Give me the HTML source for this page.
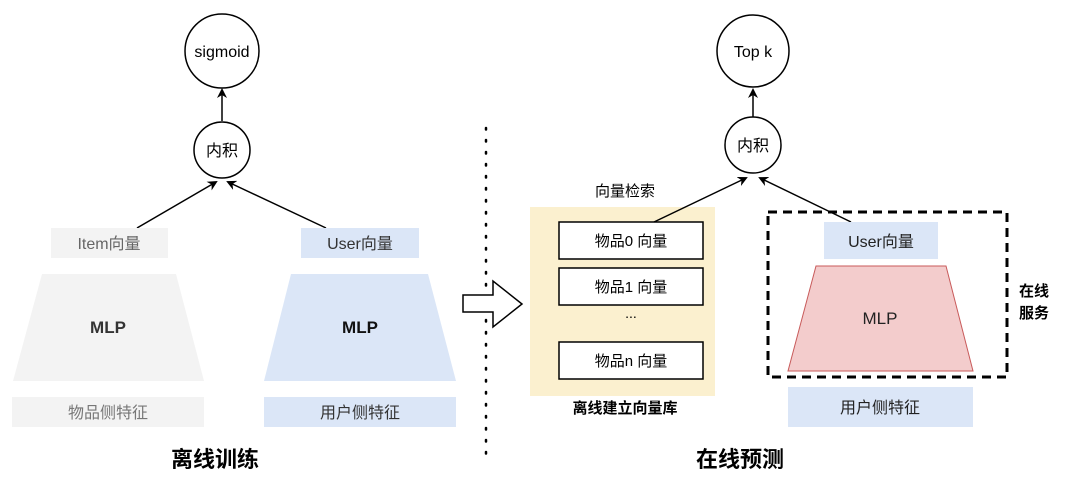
<!DOCTYPE html>
<html><head><meta charset="utf-8"><style>
body{margin:0;width:1080px;height:494px;background:#fff;overflow:hidden}
svg text{font-family:"Liberation Sans","Noto Sans CJK SC",sans-serif}
</style></head><body>
<svg width="1080" height="494" viewBox="0 0 1080 494" xmlns="http://www.w3.org/2000/svg">
<defs><marker id="a" markerWidth="10" markerHeight="10" refX="8" refY="5" orient="auto" markerUnits="userSpaceOnUse"><path d="M0,0 L10,5 L0,10 L3,5 Z" fill="#000"/></marker></defs>
<!-- left -->
<circle cx="222" cy="51" r="37" fill="#fff" stroke="#000" stroke-width="1.5"/>
<text x="222" y="57" font-size="16" text-anchor="middle">sigmoid</text>
<line x1="222" y1="121" x2="222" y2="90" stroke="#000" stroke-width="1.5" marker-end="url(#a)"/>
<circle cx="222" cy="150" r="28" fill="#fff" stroke="#000" stroke-width="1.5"/>
<text x="222" y="156" font-size="16" text-anchor="middle">内积</text>
<line x1="137" y1="228" x2="216" y2="182" stroke="#000" stroke-width="1.5" marker-end="url(#a)"/>
<line x1="326" y1="228" x2="228" y2="182" stroke="#000" stroke-width="1.5" marker-end="url(#a)"/>
<rect x="51" y="228" width="117" height="30" fill="#f3f3f3"/>
<text x="109" y="249" font-size="16" text-anchor="middle" fill="#666">Item向量</text>
<rect x="301" y="228" width="118" height="30" fill="#dbe6f7"/>
<text x="360" y="249" font-size="16" text-anchor="middle" fill="#333">User向量</text>
<polygon points="42,274 176,274 204,381 13,381" fill="#f3f3f3"/>
<text x="108" y="333" font-size="17" font-weight="bold" text-anchor="middle" fill="#333">MLP</text>
<polygon points="291,274 428,274 456,381 264,381" fill="#dbe6f7"/>
<text x="360" y="333" font-size="17" font-weight="bold" text-anchor="middle" fill="#111">MLP</text>
<rect x="12" y="397" width="192" height="30" fill="#f3f3f3"/>
<text x="108" y="418" font-size="16" text-anchor="middle" fill="#777">物品侧特征</text>
<rect x="264" y="397" width="192" height="30" fill="#dbe6f7"/>
<text x="360" y="418" font-size="16" text-anchor="middle" fill="#333">用户侧特征</text>
<text x="215" y="467" font-size="22" font-weight="bold" text-anchor="middle">离线训练</text>
<line x1="486" y1="128" x2="486" y2="462" stroke="#000" stroke-width="2.5" stroke-dasharray="1.5,10.5" stroke-linecap="round"/>
<polygon points="463,295 493,295 493,281 522,304 493,327 493,312 463,312" fill="#fff" stroke="#000" stroke-width="1.5"/>
<!-- right -->
<circle cx="753" cy="51" r="36" fill="#fff" stroke="#000" stroke-width="1.5"/>
<text x="753" y="57" font-size="16" text-anchor="middle">Top k</text>
<line x1="753" y1="117" x2="753" y2="90" stroke="#000" stroke-width="1.5" marker-end="url(#a)"/>
<circle cx="753" cy="145" r="28" fill="#fff" stroke="#000" stroke-width="1.5"/>
<text x="753" y="151" font-size="16" text-anchor="middle">内积</text>
<rect x="530" y="207" width="185" height="189" fill="#fbf0cf"/>
<text x="625" y="196" font-size="15" text-anchor="middle">向量检索</text>
<rect x="559" y="222" width="144" height="37" fill="#fff" stroke="#000" stroke-width="1.5"/>
<text x="631" y="246" font-size="15" text-anchor="middle">物品0 向量</text>
<rect x="559" y="268" width="144" height="37" fill="#fff" stroke="#000" stroke-width="1.5"/>
<text x="631" y="292" font-size="15" text-anchor="middle">物品1 向量</text>
<text x="631" y="318" font-size="14" text-anchor="middle">...</text>
<rect x="559" y="342" width="144" height="37" fill="#fff" stroke="#000" stroke-width="1.5"/>
<text x="631" y="366" font-size="15" text-anchor="middle">物品n 向量</text>
<text x="625" y="413" font-size="15" font-weight="bold" text-anchor="middle">离线建立向量库</text>
<line x1="654" y1="222" x2="746" y2="178" stroke="#000" stroke-width="1.5" marker-end="url(#a)"/>
<rect x="768" y="212" width="239" height="165" fill="none" stroke="#000" stroke-width="3" stroke-dasharray="9,6"/>
<line x1="851" y1="222" x2="760" y2="178" stroke="#000" stroke-width="1.5" marker-end="url(#a)"/>
<rect x="824" y="222" width="114" height="37" fill="#dbe6f7"/>
<text x="881" y="247" font-size="16" text-anchor="middle" fill="#222">User向量</text>
<polygon points="816,266 946,266 973,371 788,371" fill="#f3cccc" stroke="#c85a5a" stroke-width="1"/>
<text x="880" y="324" font-size="17" text-anchor="middle" fill="#222">MLP</text>
<rect x="788" y="387" width="185" height="40" fill="#dbe6f7"/>
<text x="880" y="413" font-size="16" text-anchor="middle" fill="#222">用户侧特征</text>
<text x="1019" y="296" font-size="15" font-weight="bold">在线</text>
<text x="1019" y="318" font-size="15" font-weight="bold">服务</text>
<text x="740" y="467" font-size="22" font-weight="bold" text-anchor="middle">在线预测</text>
</svg>
</body></html>
